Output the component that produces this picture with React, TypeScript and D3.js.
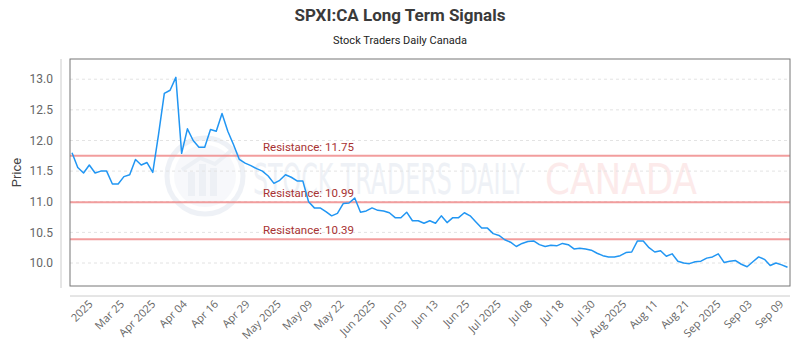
import React from 'react';
import * as d3 from 'd3';

// closing prices
const prices = [
  11.80, 11.56, 11.47, 11.60, 11.47, 11.50, 11.50, 11.29, 11.29, 11.41,
  11.44, 11.69, 11.60, 11.64, 11.48, 12.10, 12.77, 12.82, 13.03, 11.79,
  12.19, 12.00, 11.89, 11.89, 12.18, 12.15, 12.44, 12.15, 11.93, 11.69,
  11.63, 11.59, 11.54, 11.50, 11.42, 11.30, 11.35, 11.44, 11.40, 11.34,
  11.34, 11.00, 10.90, 10.90, 10.84, 10.77, 10.81, 10.97, 10.98, 11.06,
  10.83, 10.85, 10.90, 10.86, 10.85, 10.82, 10.74, 10.74, 10.83, 10.69,
  10.69, 10.65, 10.69, 10.65, 10.77, 10.66, 10.74, 10.74, 10.82, 10.77,
  10.67, 10.57, 10.57, 10.48, 10.45, 10.38, 10.34, 10.27, 10.32, 10.35,
  10.36, 10.30, 10.27, 10.29, 10.28, 10.32, 10.30, 10.23, 10.24, 10.23,
  10.21, 10.16, 10.12, 10.10, 10.10, 10.12, 10.17, 10.18, 10.36, 10.36,
  10.25, 10.18, 10.20, 10.11, 10.15, 10.03, 10.00, 9.99, 10.02, 10.03,
  10.08, 10.10, 10.15, 10.01, 10.03, 10.04, 9.98, 9.94, 10.02, 10.10,
  10.06, 9.96, 10.00, 9.97, 9.93,
];

const dateLabels = [
  '2025', 'Mar 25', 'Apr 2025', 'Apr 04', 'Apr 16', 'Apr 29', 'May 2025',
  'May 09', 'May 22', 'Jun 2025', 'Jun 03', 'Jun 13', 'Jun 25', 'Jul 2025',
  'Jul 08', 'Jul 18', 'Jul 30', 'Aug 2025', 'Aug 11', 'Aug 21', 'Sep 2025',
  'Sep 03', 'Sep 09',
];

const priceTicks = [10.0, 10.5, 11.0, 11.5, 12.0, 12.5, 13.0];
const resistances = [11.75, 10.99, 10.39];

const W = 800;
const H = 350;
const left = 70;
const right = 790;
const top = 59;
const bottom = 286;

export default function App() {
  const x = d3.scaleLinear().domain([0, prices.length - 1]).range([left + 2, right - 2.5]);
  const y = d3.scaleLinear().domain([9.625, 13.33]).range([bottom, top]);
  const xLab = d3.scalePoint<string>().domain(dateLabels).range([x(2.9), x(122.6)]);

  const line = d3.line<number>()
    .x((d, i) => x(i))
    .y(d => y(d));

  return (
    <svg width={W} height={H} style={{ position: 'absolute', left: 0, top: 0 }}
      fontFamily="Roboto, 'Open Sans', sans-serif">
      <rect width={W} height={H} fill="#fff" />

      {/* title */}
      <text x={400} y={21} textAnchor="middle" fontSize={17} fontWeight="bold" fill="#3a3a3a">
        SPXI:CA Long Term Signals
      </text>
      <text x={400} y={44} textAnchor="middle" fontSize={11} fill="#222">
        Stock Traders Daily Canada
      </text>

      {/* faint watermark */}
      <g opacity={0.3}>
        <circle cx={205} cy={176} r={38} fill="none" stroke="#c9d3e3" strokeWidth={5} />
        <circle cx={205} cy={176} r={31} fill="#e6ebf3" />
        <rect x={188} y={172} width={7} height={24} fill="#c6d0e0" />
        <rect x={199} y={164} width={7} height={32} fill="#c6d0e0" />
        <rect x={210} y={168} width={7} height={28} fill="#c6d0e0" />
        <path d="M182 170 L200 158 L215 164 L232 150" fill="none" stroke="#c6d0e0" strokeWidth={4} />
        <text x={253} y={194} fontSize={42} fill="#c9d3e3" fontFamily="'DejaVu Sans', sans-serif"
          textLength={272} lengthAdjust="spacingAndGlyphs">STOCK TRADERS DAILY</text>
        <text x={545} y={194} fontSize={42} fill="#f6bcbc" fontFamily="'DejaVu Sans', sans-serif"
          textLength={152} lengthAdjust="spacingAndGlyphs">CANADA</text>
      </g>

      {/* grid */}
      {priceTicks.map(t => (
        <line key={t} x1={left} x2={right} y1={y(t)} y2={y(t)}
          stroke="#e3e3e3" strokeWidth={1} strokeDasharray="3,3" />
      ))}

      {/* y axis */}
      <line x1={61} x2={61} y1={top} y2={bottom + 2} stroke="#ccc" />
      {priceTicks.map(t => (
        <text key={t} x={53} y={y(t)} dy="0.35em" textAnchor="end" fontSize={12} fill="#666">
          {t.toFixed(1)}
        </text>
      ))}
      <text transform={`translate(21,${(top + bottom) / 2}) rotate(-90)`} textAnchor="middle"
        fontSize={13} fill="#444">Price</text>

      {/* resistance lines */}
      {resistances.map(r => (
        <g key={r}>
          <line x1={left} x2={right} y1={y(r)} y2={y(r)} stroke="#f08c8c" strokeOpacity={0.85} strokeWidth={2} />
          <text x={263} y={y(r) - 5} fontSize={11.5} fill="#a83232">Resistance: {r.toFixed(2)}</text>
        </g>
      ))}

      {/* price line */}
      <path d={line(prices) ?? ''} fill="none" stroke="#2196f3" strokeWidth={1.5} strokeLinejoin="round" />

      {/* plot frame */}
      <rect x={left} y={top} width={right - left} height={bottom - top} fill="none" stroke="#777" strokeWidth={1} />

      {/* x axis */}
      <line x1={left} x2={right} y1={296} y2={296} stroke="#ccc" />
      {dateLabels.map(l => (
        <text key={l} transform={`translate(${(xLab(l) ?? 0) + 2},302) rotate(-45)`} textAnchor="end"
          dy="0.35em" fontSize={11} fill="#666" fontFamily="'Open Sans', sans-serif">{l}</text>
      ))}
    </svg>
  );
}
